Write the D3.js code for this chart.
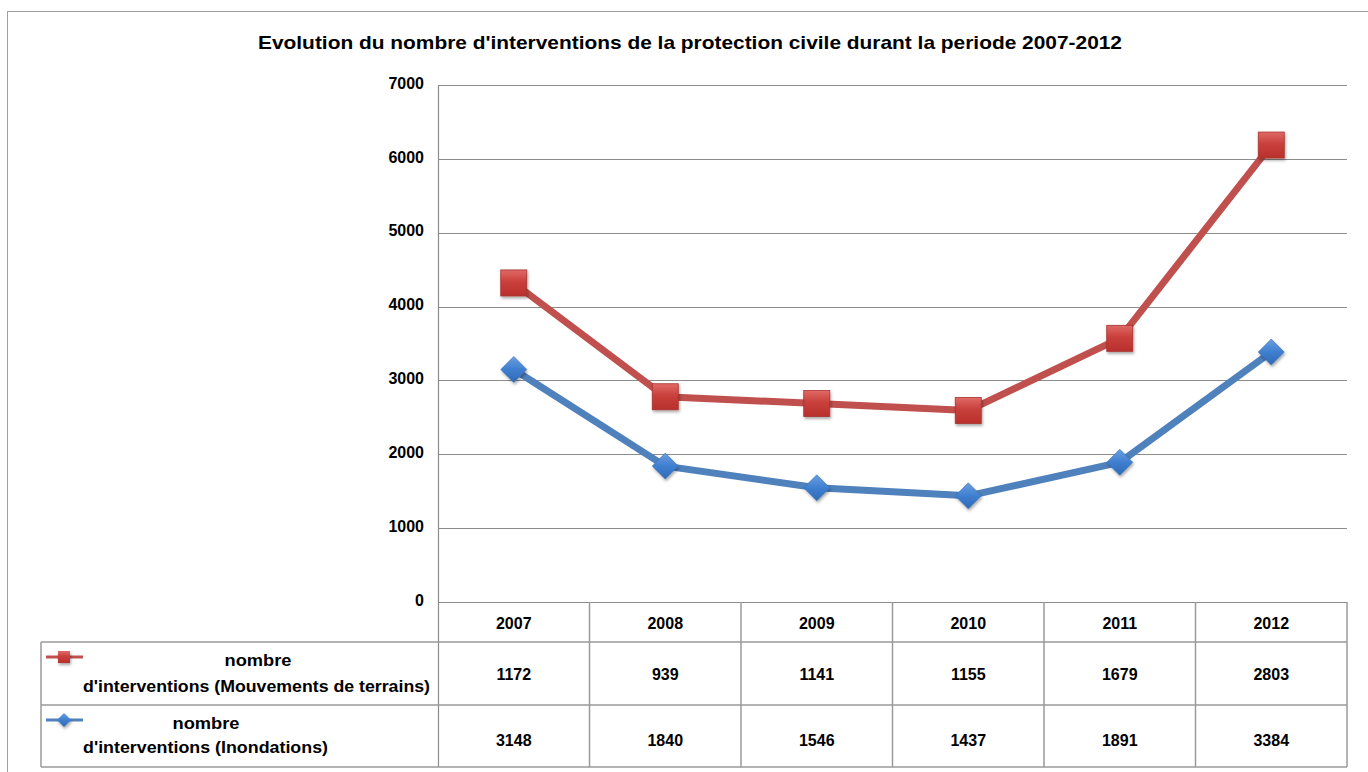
<!DOCTYPE html>
<html>
<head>
<meta charset="utf-8">
<script src="https://cdn.jsdelivr.net/npm/d3@7"></script>
<style>
  body { margin: 0; background: #fff; }
  svg { display: block; }
</style>
</head>
<body>
<div id="chart"></div>
<script>
var width = 1368;
var height = 772;

// data
var years = ["2007", "2008", "2009", "2010", "2011", "2012"];
var mouvements = [1172, 939, 1141, 1155, 1679, 2803];
var inondations = [3148, 1840, 1546, 1437, 1891, 3384];
var yTicks = [0, 1000, 2000, 3000, 4000, 5000, 6000, 7000];
var seriesNames = ["nombre d'interventions (Mouvements de terrains)", "nombre d'interventions (Inondations)"];

var red = "#C0504D", blue = "#4F81BD";
var font = "'Liberation Sans', Arial, sans-serif";

var svg = d3.select("#chart")
    .append("svg")
    .attr("width", width)
    .attr("height", height)
    .attr("font-family", font)
    .attr("font-weight", "bold");

var defs = svg.append("defs");
var g1 = defs.append("linearGradient").attr("id", "gradRed").attr("x1", 0).attr("y1", 0).attr("x2", 0).attr("y2", 1);
g1.append("stop").attr("offset", "0%").attr("stop-color", "#e06a66");
g1.append("stop").attr("offset", "45%").attr("stop-color", "#c9403c");
g1.append("stop").attr("offset", "100%").attr("stop-color", "#b8302c");
var g2 = defs.append("linearGradient").attr("id", "gradBlue").attr("x1", 0).attr("y1", 0).attr("x2", 0).attr("y2", 1);
g2.append("stop").attr("offset", "0%").attr("stop-color", "#6a9ee0");
g2.append("stop").attr("offset", "50%").attr("stop-color", "#3f7fd0");
g2.append("stop").attr("offset", "100%").attr("stop-color", "#2f69b5");
var sh = defs.append("filter").attr("id", "shadow").attr("x", "-50%").attr("y", "-50%").attr("width", "200%").attr("height", "200%");
sh.append("feDropShadow").attr("dx", 1).attr("dy", 2).attr("stdDeviation", 1.5).attr("flood-color", "#000").attr("flood-opacity", 0.35);

// chart frame
svg.append("rect")
    .attr("x", 7.5).attr("y", 11.5)
    .attr("width", 1400).attr("height", 800)
    .attr("fill", "none").attr("stroke", "#a0a0a0");

svg.append("text")
    .attr("x", 690).attr("y", 49)
    .attr("text-anchor", "middle")
    .attr("font-size", 19)
    .attr("textLength", 864)
    .attr("lengthAdjust", "spacingAndGlyphs")
    .text("Evolution du nombre d'interventions de la protection civile  durant la periode 2007-2012");

var plotLeft = 438, plotRight = 1347, plotTop = 85, plotBottom = 602;

var x = d3.scaleBand().domain(years).range([plotLeft, plotRight]);
var y = d3.scaleLinear().domain([0, 7000]).range([plotBottom, plotTop]);

// gridlines
svg.append("g")
  .selectAll("line")
  .data(yTicks)
  .enter().append("line")
    .attr("x1", plotLeft).attr("x2", plotRight)
    .attr("y1", function(d) { return Math.round(y(d)) + 0.5; })
    .attr("y2", function(d) { return Math.round(y(d)) + 0.5; })
    .attr("stroke", "#8c8c8c").attr("stroke-width", 1.2);

svg.append("line")
    .attr("x1", plotLeft + 0.5).attr("x2", plotLeft + 0.5)
    .attr("y1", plotTop).attr("y2", 767)
    .attr("stroke", "#8c8c8c").attr("stroke-width", 1.2);

var yAxis = svg.append("g")
    .attr("transform", "translate(" + (plotLeft - 14) + ",0)")
    .call(d3.axisLeft(y).tickValues(yTicks).tickSize(0).tickPadding(0).tickFormat(d3.format("d")));
yAxis.select(".domain").remove();
yAxis.selectAll("text")
    .attr("font-family", font).attr("font-weight", "bold")
    .attr("font-size", 16).attr("fill", "#000")
    .attr("dy", "0.2em");

// stacked data (Excel stacked line)
var rows = years.map(function(yr, i) { return {year: yr, inon: inondations[i], mouv: mouvements[i]}; });
var stack = d3.stack().keys(["inon", "mouv"]);
var layers = stack(rows);

var line = d3.line()
    .x(function(d) { return x(d.data.year) + x.bandwidth() / 2; })
    .y(function(d) { return y(d[1]); });

var colors = {inon: blue, mouv: red};

layers.forEach(function(layer) {
  svg.append("path")
      .datum(layer)
      .attr("fill", "none")
      .attr("stroke", colors[layer.key])
      .attr("stroke-width", 7)
      .attr("stroke-linejoin", "round")
      .attr("d", line);
});

// markers
var mouvLayer = layers[1], inonLayer = layers[0];
svg.append("g").selectAll("rect")
    .data(mouvLayer)
    .enter().append("rect")
      .attr("x", function(d) { return x(d.data.year) + x.bandwidth() / 2 - 13; })
      .attr("y", function(d) { return y(d[1]) - 13; })
      .attr("width", 26).attr("height", 26)
      .attr("fill", "url(#gradRed)")
      .attr("stroke", "#a8322f").attr("stroke-width", 0.8)
      .attr("filter", "url(#shadow)");

svg.append("g").selectAll("path")
    .data(inonLayer)
    .enter().append("path")
      .attr("transform", function(d) { return "translate(" + (x(d.data.year) + x.bandwidth() / 2) + "," + y(d[1]) + ")"; })
      .attr("d", "M0,-13L13,0L0,13L-13,0Z")
      .attr("fill", "url(#gradBlue)")
      .attr("stroke", "#3a6fb0").attr("stroke-width", 0.6)
      .attr("filter", "url(#shadow)");

// data table
var tbl = svg.append("g").attr("stroke", "#9a9a9a").attr("stroke-width", 1.5).attr("fill", "none");
var rowY = [602, 642, 705, 767];
tbl.append("line").attr("x1", 41).attr("x2", plotRight).attr("y1", rowY[1]).attr("y2", rowY[1]);
tbl.append("line").attr("x1", 41).attr("x2", plotRight).attr("y1", rowY[2]).attr("y2", rowY[2]);
tbl.append("line").attr("x1", 41).attr("x2", plotRight).attr("y1", rowY[3]).attr("y2", rowY[3]);
tbl.append("line").attr("x1", 41).attr("x2", 41).attr("y1", rowY[1]).attr("y2", rowY[3]);
tbl.selectAll(".vl")
  .data(years)
  .enter().append("line")
    .attr("x1", function(d) { return x(d) + x.bandwidth(); })
    .attr("x2", function(d) { return x(d) + x.bandwidth(); })
    .attr("y1", rowY[0]).attr("y2", rowY[3]);

svg.append("g").selectAll("text")
    .data(years)
    .enter().append("text")
      .attr("x", function(d) { return x(d) + x.bandwidth() / 2; })
      .attr("y", 629)
      .attr("text-anchor", "middle")
      .attr("font-size", 16)
      .text(function(d) { return d; });

[mouvements, inondations].forEach(function(vals, r) {
  svg.append("g").selectAll("text")
      .data(vals)
      .enter().append("text")
        .attr("x", function(d, i) { return x(years[i]) + x.bandwidth() / 2; })
        .attr("y", r === 0 ? 680 : 746)
        .attr("text-anchor", "middle")
        .attr("font-size", 16)
        .text(function(d) { return d; });
});

// legend keys in table
var legendRows = [
  {color: red, shape: "square", y: 657, l1: 666, l2: 692, cx: 258, line2: "d'interventions (Mouvements de terrains)", w: 347},
  {color: blue, shape: "diamond", y: 720, l1: 729, l2: 753, cx: 206, line2: "d'interventions (Inondations)", w: 245}
];
legendRows.forEach(function(lr) {
  svg.append("line")
      .attr("x1", 46).attr("x2", 83)
      .attr("y1", lr.y).attr("y2", lr.y)
      .attr("stroke", lr.color).attr("stroke-width", 3);
  if (lr.shape === "square") {
    svg.append("rect")
        .attr("x", 58).attr("y", lr.y - 6).attr("width", 12).attr("height", 12)
        .attr("fill", "url(#gradRed)").attr("filter", "url(#shadow)");
  } else {
    svg.append("path")
        .attr("transform", "translate(64," + lr.y + ")")
        .attr("d", "M0,-7L7,0L0,7L-7,0Z")
        .attr("fill", "url(#gradBlue)").attr("filter", "url(#shadow)");
  }
  svg.append("text")
      .attr("x", lr.cx).attr("y", lr.l1)
      .attr("text-anchor", "middle").attr("font-size", 17)
      .attr("textLength", 67)
      .attr("lengthAdjust", "spacingAndGlyphs")
      .text("nombre");
  svg.append("text")
      .attr("x", 83).attr("y", lr.l2)
      .attr("font-size", 17)
      .attr("textLength", lr.w)
      .attr("lengthAdjust", "spacingAndGlyphs")
      .text(lr.line2);
});
</script>
</body>
</html>
